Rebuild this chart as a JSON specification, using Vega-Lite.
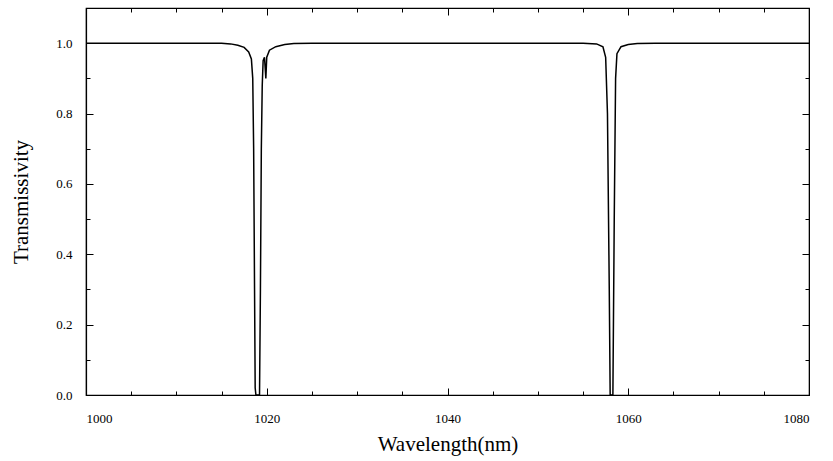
{
  "$schema": "https://vega.github.io/schema/vega-lite/v6.json",
  "autosize": {"type": "none"},
  "padding": {"left": 86, "top": 8, "right": 24, "bottom": 66},
  "width": 723,
  "height": 387,
  "background": "white",
  "config": {
    "view": {"stroke": "black", "strokeWidth": 1.2},
    "axis": {"grid": false, "domainColor": "black", "tickColor": "black", "labelColor": "black", "titleColor": "black", "labelFont": "Liberation Serif", "titleFont": "Liberation Serif", "titleFontWeight": "normal"}
  },
  "data": {"values": [
    {"w": 1000, "t": 1.0},
    {"w": 1015.0, "t": 1.0},
    {"w": 1016.0, "t": 0.998},
    {"w": 1016.8, "t": 0.994},
    {"w": 1017.5, "t": 0.988},
    {"w": 1018.0, "t": 0.975},
    {"w": 1018.3, "t": 0.955},
    {"w": 1018.45, "t": 0.9},
    {"w": 1018.55, "t": 0.7},
    {"w": 1018.65, "t": 0.3},
    {"w": 1018.72, "t": 0.02},
    {"w": 1018.8, "t": 0.0},
    {"w": 1019.2, "t": 0.0},
    {"w": 1019.3, "t": 0.3},
    {"w": 1019.4, "t": 0.7},
    {"w": 1019.5, "t": 0.88},
    {"w": 1019.6, "t": 0.95},
    {"w": 1019.75, "t": 0.96},
    {"w": 1019.9, "t": 0.9},
    {"w": 1020.0, "t": 0.96},
    {"w": 1020.3, "t": 0.98},
    {"w": 1021.0, "t": 0.99},
    {"w": 1022.0, "t": 0.996},
    {"w": 1023.0, "t": 0.999},
    {"w": 1025.0, "t": 1.0},
    {"w": 1055.0, "t": 1.0},
    {"w": 1056.5, "t": 0.998},
    {"w": 1057.2, "t": 0.99},
    {"w": 1057.5, "t": 0.96},
    {"w": 1057.7, "t": 0.8},
    {"w": 1057.9, "t": 0.3},
    {"w": 1058.0, "t": 0.0},
    {"w": 1058.3, "t": 0.0},
    {"w": 1058.45, "t": 0.5},
    {"w": 1058.6, "t": 0.9},
    {"w": 1058.75, "t": 0.97},
    {"w": 1059.2, "t": 0.99},
    {"w": 1060.0, "t": 0.996},
    {"w": 1061.0, "t": 0.999},
    {"w": 1063.0, "t": 1.0},
    {"w": 1080, "t": 1.0}
  ]},
  "layer": [
    {
      "mark": {"type": "line", "color": "black", "strokeWidth": 1.5, "clip": true},
      "encoding": {
        "x": {"field": "w", "type": "quantitative", "scale": {"domain": [1000, 1080], "nice": false, "zero": false},
          "axis": {"orient": "bottom", "values": [1000,1005,1010,1015,1020,1025,1030,1035,1040,1045,1050,1055,1060,1065,1070,1075,1080],
            "labelExpr": "datum.value % 20 === 0 ? datum.label : ''", "format": "d",
            "tickSize": {"condition": {"test": "datum.value % 20 === 0", "value": -7}, "value": -4},
            "labelPadding": 24, "labelFontSize": 13, "domainWidth": 1.2,
            "title": "Wavelength(nm)", "titleFontSize": 21, "titlePadding": 8}},
        "y": {"field": "t", "type": "quantitative", "scale": {"domain": [0, 1.1], "nice": false},
          "axis": {"orient": "left", "values": [0,0.1,0.2,0.3,0.4,0.5,0.6,0.7,0.8,0.9,1.0],
            "labelExpr": "round(datum.value*10) % 2 === 0 ? format(datum.value, '.1f') : ''",
            "tickSize": {"condition": {"test": "round(datum.value*10) % 2 === 0", "value": -7}, "value": -4},
            "labelPadding": 21, "labelFontSize": 13, "domainWidth": 1.2,
            "title": "Transmissivity", "titleFontSize": 21, "titlePadding": 24}}
      }
    },
    {
      "mark": {"type": "line", "opacity": 0},
      "encoding": {
        "x": {"field": "w", "type": "quantitative", "scale": {"domain": [1000, 1080], "nice": false, "zero": false},
          "axis": {"orient": "top", "values": [1000,1005,1010,1015,1020,1025,1030,1035,1040,1045,1050,1055,1060,1065,1070,1075,1080],
            "labels": false, "title": null,
            "tickSize": {"condition": {"test": "datum.value % 20 === 0", "value": -7}, "value": -4}}},
        "y": {"field": "t", "type": "quantitative", "scale": {"domain": [0, 1.1], "nice": false},
          "axis": {"orient": "right", "values": [0,0.1,0.2,0.3,0.4,0.5,0.6,0.7,0.8,0.9,1.0],
            "labels": false, "title": null,
            "tickSize": {"condition": {"test": "round(datum.value*10) % 2 === 0", "value": -7}, "value": -4}}}
      }
    }
  ],
  "resolve": {"scale": {"x": "independent", "y": "independent"}, "axis": {"x": "independent", "y": "independent"}}
}
